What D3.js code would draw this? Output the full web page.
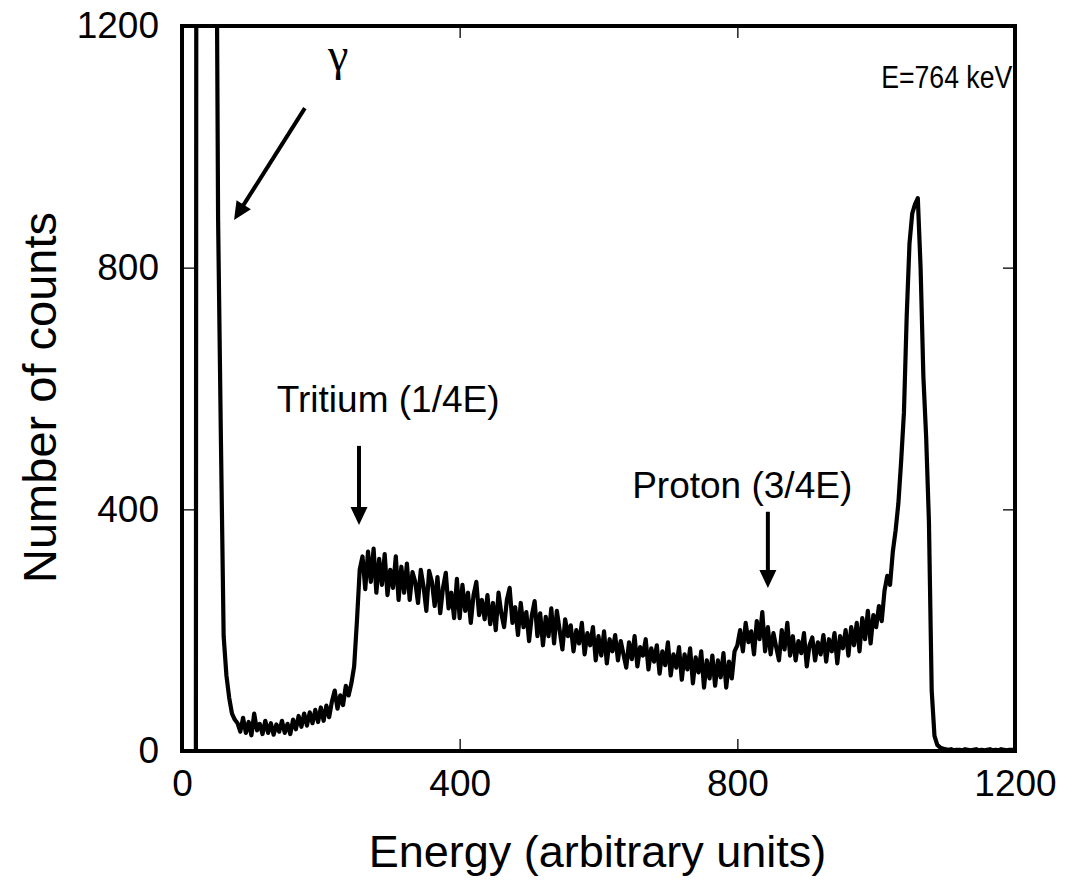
<!DOCTYPE html>
<html>
<head>
<meta charset="utf-8">
<script src="https://cdn.jsdelivr.net/npm/d3@7"></script>
<style>
  html, body { margin: 0; padding: 0; background: #fff; }
  svg { display: block; }
</style>
</head>
<body>
<svg id="chart" width="1076" height="887"></svg>
<script>
// ---------------- data ----------------
const channelStep = 4;              // spectrum channel spacing of the values below
const xTicks = [0, 400, 800, 1200];
const yTicks = [0, 400, 800, 1200];
const xTitle = "Energy (arbitrary units)";
const yTitle = "Number of counts";

// counts per channel, channels 0,4,8,...,1200 (10 values per row)
const counts = [
  0, 0, 0, 0, 0, 0, 8600, 9400, 9800, 9500,            // 0-36
  8200, 5200, 1750, 880, 520, 190, 125, 88, 62, 52,      // 40-76
  46, 32, 55, 30, 48, 26, 62, 34, 45, 28,                // 80-116
  50, 30, 46, 27, 44, 32, 50, 30, 45, 28,                // 120-156
  52, 36, 58, 40, 62, 42, 64, 46, 68, 48,                // 160-196
  72, 50, 75, 56, 82, 100, 70, 92, 76, 108,              // 200-236
  92, 112, 140, 215, 300, 322, 268, 330, 280, 335,       // 240-276
  262, 318, 275, 326, 258, 300, 270, 322, 250, 305,      // 280-316
  262, 310, 250, 296, 280, 245, 300, 272, 232, 298,      // 320-356
  280, 240, 288, 228, 270, 295, 236, 262, 220, 285,      // 360-396
  220, 275, 232, 262, 212, 258, 280, 225, 250, 218,      // 400-436
  258, 210, 245, 200, 262, 228, 205, 250, 270, 212,      // 440-476
  238, 192, 245, 205, 230, 182, 225, 248, 190, 228,      // 480-516
  175, 222, 190, 236, 178, 232, 200, 168, 218, 190,      // 520-556
  208, 165, 200, 178, 212, 160, 195, 175, 205, 150,      // 560-596
  190, 158, 198, 145, 185, 165, 192, 150, 182, 160,      // 600-636
  138, 180, 152, 190, 140, 172, 158, 185, 135, 170,      // 640-676
  148, 175, 128, 165, 142, 180, 125, 160, 138, 172,      // 680-716
  118, 160, 135, 170, 112, 155, 130, 165, 105, 150,      // 720-756
  120, 158, 108, 150, 122, 162, 105, 148, 120, 165,      // 760-796
  175, 200, 165, 212, 180, 198, 160, 215, 185, 230,      // 800-836
  165, 205, 160, 195, 172, 150, 200, 168, 212, 158,      // 840-876
  190, 150, 182, 162, 195, 140, 175, 188, 150, 180,      // 880-916
  160, 192, 148, 185, 165, 195, 145, 190, 170, 200,      // 920-956
  158, 205, 175, 212, 165, 220, 185, 232, 178, 225,      // 960-996
  205, 240, 215, 265, 290, 275, 330, 365, 410, 480,      // 1000-1036
  560, 720, 840, 890, 905, 915, 800, 620, 520, 380,      // 1040-1076
  100, 25, 10, 6, 4, 3, 2, 3, 1, 2,                      // 1080-1116
  2, 1, 3, 2, 1, 2, 3, 1, 2, 1,                          // 1120-1156
  2, 3, 1, 2, 1, 3, 2, 1, 2, 2,                          // 1160-1196
  1                                                      // 1200
];

// annotations, in data units
const labels = [
  { text: "γ",              ch: 225,  v: 1127, size: 46, anchor: "middle", serif: true },
  { text: "E=764 keV",      ch: 1196, v: 1098, size: 31, anchor: "end", fit: 131 },
  { text: "Tritium (1/4E)", ch: 297,  v: 561,  size: 37, anchor: "middle" },
  { text: "Proton (3/4E)",  ch: 807,  v: 419,  size: 37, anchor: "middle" }
];
const arrows = [
  { from: [177, 1064], to: [75, 879] },   // gamma
  { from: [255, 505],  to: [255, 374] },  // tritium
  { from: [844, 396],  to: [844, 270] }   // proton
];

// ---------------- chart ----------------
const L = 182, R = 1015, T = 26, B = 751;
const svg = d3.select("#chart");
const x = d3.scaleLinear().domain([0, 1200]).range([L, R]);
const y = d3.scaleLinear().domain([0, 1200]).range([B, T]);
const font = "'Liberation Sans', Arial, Helvetica, sans-serif";
const fmt = d3.format("d");

const series = counts.map((v, i) => ({ ch: i * channelStep, v }));

svg.append("defs").append("clipPath").attr("id", "plotclip")
  .append("rect").attr("x", L).attr("y", T).attr("width", R - L).attr("height", B - T);

// axes
function styleAxis(g) {
  g.select(".domain").remove();
  g.selectAll(".tick line").attr("stroke", "#222").attr("stroke-width", 1.5);
  g.selectAll(".tick text").attr("fill", "#000").style("font-family", font).style("font-size", "37px");
}
svg.append("g").attr("transform", `translate(0,${B})`)
  .call(d3.axisBottom(x).tickValues(xTicks).tickFormat(fmt).tickSizeInner(-12).tickSizeOuter(0).tickPadding(19))
  .call(styleAxis);
svg.append("g").attr("transform", `translate(${L},0)`)
  .call(d3.axisLeft(y).tickValues(yTicks).tickFormat(fmt).tickSizeInner(-12).tickSizeOuter(0).tickPadding(23))
  .call(styleAxis);
svg.append("g").attr("transform", `translate(0,${T})`)
  .call(d3.axisTop(x).tickValues(xTicks).tickSizeInner(-12).tickSizeOuter(0).tickFormat(""))
  .call(styleAxis);
svg.append("g").attr("transform", `translate(${R},0)`)
  .call(d3.axisRight(y).tickValues(yTicks).tickSizeInner(-12).tickSizeOuter(0).tickFormat(""))
  .call(styleAxis);

// spectrum line
svg.append("path")
  .datum(series)
  .attr("clip-path", "url(#plotclip)")
  .attr("fill", "none")
  .attr("stroke", "#000")
  .attr("stroke-width", 4.2)
  .attr("stroke-linejoin", "round")
  .attr("d", d3.line().x(d => x(d.ch)).y(d => y(d.v)));

// frame
svg.append("rect")
  .attr("x", L).attr("y", T).attr("width", R - L).attr("height", B - T)
  .attr("fill", "none").attr("stroke", "#000").attr("stroke-width", 4);

// axis titles
svg.append("text")
  .attr("x", (L + R) / 2 - 1).attr("y", 867)
  .attr("text-anchor", "middle")
  .style("font-family", font).style("font-size", "45px")
  .text(xTitle);
svg.append("text")
  .attr("transform", `translate(56,${(T + B) / 2 + 9}) rotate(-90)`)
  .attr("text-anchor", "middle")
  .style("font-family", font).style("font-size", "47px")
  .text(yTitle);

// annotation labels
svg.selectAll("text.ann").data(labels).join("text")
  .attr("class", "ann")
  .attr("x", d => x(d.ch)).attr("y", d => y(d.v))
  .attr("text-anchor", d => d.anchor)
  .attr("textLength", d => d.fit || null)
  .attr("lengthAdjust", d => d.fit ? "spacingAndGlyphs" : null)
  .style("font-family", d => d.serif ? "'Liberation Serif', 'Times New Roman', serif" : font)
  .style("font-size", d => d.size + "px")
  .text(d => d.text);

// arrows
const headLen = 18, headHalf = 8.5;
arrows.forEach(a => {
  const x0 = x(a.from[0]), y0 = y(a.from[1]);
  const x1 = x(a.to[0]),   y1 = y(a.to[1]);
  const dx = x1 - x0, dy = y1 - y0, len = Math.hypot(dx, dy);
  const ux = dx / len, uy = dy / len;
  const bx = x1 - ux * headLen, by = y1 - uy * headLen;
  svg.append("line")
    .attr("x1", x0).attr("y1", y0).attr("x2", bx + ux * 2).attr("y2", by + uy * 2)
    .attr("stroke", "#000").attr("stroke-width", 4);
  svg.append("path")
    .attr("d", `M${x1},${y1} L${bx - uy * headHalf},${by + ux * headHalf} L${bx + uy * headHalf},${by - ux * headHalf} Z`)
    .attr("fill", "#000");
});
</script>
</body>
</html>
